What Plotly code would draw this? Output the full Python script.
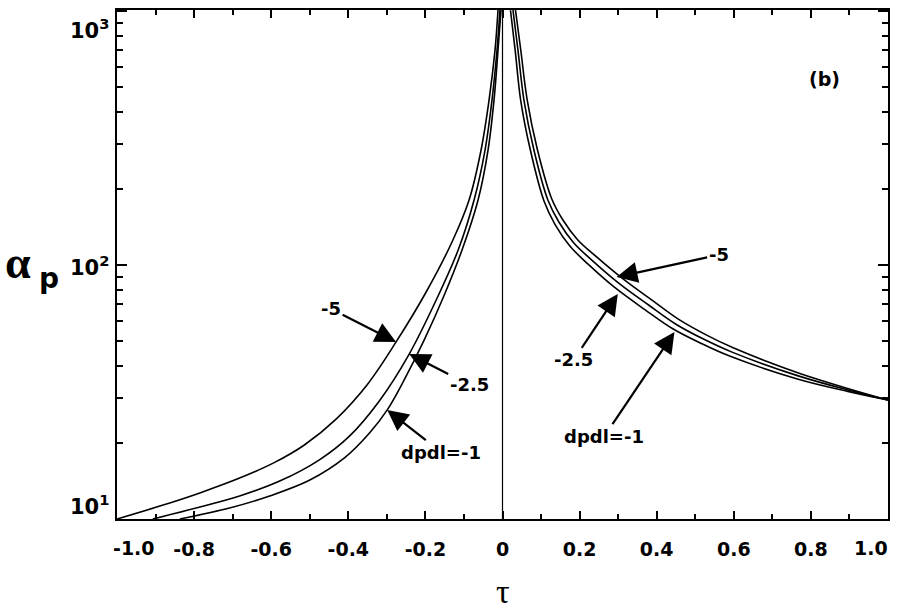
import plotly.graph_objects as go

# ---------------- data ----------------
# tau < 0 branch
tau_left_m5 = [-1.000, -0.889, -0.785, -0.682, -0.591, -0.514, -0.431, -0.351, -0.276,
               -0.198, -0.131, -0.0867, -0.0556, -0.0349, -0.0194, -0.0116]
alpha_left_m5 = [10.0, 11.24, 12.67, 14.49, 16.71, 19.56, 24.8, 33.8, 49.8,
                 78.3, 123.2, 180.3, 283.6, 446, 702, 1009]

tau_left_m25 = [-0.907, -0.785, -0.682, -0.578, -0.475, -0.397, -0.320, -0.242, -0.172,
                -0.115, -0.0737, -0.0453, -0.0272, -0.0142, -0.0065]
alpha_left_m25 = [10.0, 11.15, 12.32, 14.1, 17.1, 21.2, 29.1, 44.6, 72.8,
                  114.6, 180.3, 283.6, 446, 702, 1009]

tau_left_m1 = [-0.837, -0.708, -0.604, -0.501, -0.410, -0.345, -0.299, -0.255, -0.203,
               -0.151, -0.105, -0.0634, -0.0375, -0.0220, -0.0116, -0.0039]
alpha_left_m1 = [10.0, 11.05, 12.32, 14.2, 17.4, 21.8, 26.9, 35.3, 50.7,
                 76.2, 114.6, 180.3, 283.6, 446, 702, 1009]

# tau > 0 branch
tau_right_m5 = [0.0336, 0.0473, 0.0639, 0.0903, 0.1276, 0.1563, 0.1948, 0.2411,
                0.3110, 0.3878, 0.4561, 0.5270, 0.5984, 0.7695, 0.8975, 1.000]
alpha_right_m5 = [1012, 704, 448, 285.7, 182.4, 150.8, 125.8, 108.6,
                  88.6, 72.7, 61.2, 53.2, 47.2, 37.5, 32.6, 29.4]

tau_right_m25 = [0.0272, 0.0401, 0.0556, 0.0815, 0.1177, 0.1462, 0.1850, 0.2316,
                 0.3014, 0.3790, 0.4489, 0.5213, 0.5938, 0.7671, 0.8965, 1.000]
alpha_right_m25 = [1009, 702, 446, 283.6, 180.3, 147.7, 122.1, 104.6,
                   84.9, 69.6, 58.6, 51.1, 45.5, 36.6, 32.2, 29.4]

tau_right_m1 = [0.0207, 0.0329, 0.0473, 0.0727, 0.1079, 0.1361, 0.1752, 0.2220,
                0.2918, 0.3702, 0.4417, 0.5157, 0.5891, 0.7648, 0.8955, 1.000]
alpha_right_m1 = [1007, 700, 444, 281.6, 178.2, 144.6, 118.5, 100.8,
                  81.4, 66.6, 56.1, 49.1, 43.8, 35.6, 31.8, 29.4]

x_tick_vals = [-0.8, -0.6, -0.4, -0.2, 0, 0.2, 0.4, 0.6, 0.8]
x_tick_text = ["-0.8", "-0.6", "-0.4", "-0.2", "0", "0.2", "0.4", "0.6", "0.8"]
x_end_vals = [-1.0, 1.0]
x_end_text = ["-1.0", "1.0"]
x_minor_vals = [-0.9, -0.7, -0.5, -0.3, -0.1, 0.1, 0.3, 0.5, 0.7, 0.9]
y_tick_vals = [10, 100, 1000]
y_tick_text = ["10<sup>1</sup>", "10<sup>2</sup>", "10<sup>3</sup>"]
y_minor_vals = [20, 30, 40, 50, 60, 70, 80, 90, 200, 300, 400, 500, 600, 700, 800, 900]

# ---------------- figure ----------------
fig = go.Figure()
line_style = dict(color="black", width=1.6, shape="spline", smoothing=1.0)
for xs, ys in [(tau_left_m5, alpha_left_m5), (tau_left_m25, alpha_left_m25),
               (tau_left_m1, alpha_left_m1), (tau_right_m5, alpha_right_m5),
               (tau_right_m25, alpha_right_m25), (tau_right_m1, alpha_right_m1)]:
    fig.add_trace(go.Scatter(x=xs, y=ys, mode="lines", line=line_style,
                             showlegend=False, hoverinfo="skip", cliponaxis=True))

fig.add_shape(type="line", x0=0, x1=0, y0=0, y1=1, xref="x", yref="paper",
              line=dict(color="black", width=1.2))

bold = dict(family="DejaVu Sans", size=18, color="black", weight="bold")
arrow_kw = dict(showarrow=True, arrowhead=2, arrowsize=1.9, arrowwidth=2.2,
                arrowcolor="black", standoff=0, font=bold, axref="pixel", ayref="pixel")

# left branch labels (annotation y is log10 on the log axis)
fig.add_annotation(x=-0.276, y=1.697, text="-5", ax=-65, ay=-33, **arrow_kw)
fig.add_annotation(x=-0.242, y=1.650, text="-2.5", ax=60, ay=31, **arrow_kw)
fig.add_annotation(x=-0.299, y=1.429, text="dpdl=-1", ax=54, ay=42, **arrow_kw)
# right branch labels
fig.add_annotation(x=0.296, y=1.953, text="-5", ax=102, ay=-22, **arrow_kw)
fig.add_annotation(x=0.299, y=1.886, text="-2.5", ax=-44, ay=66, **arrow_kw)
fig.add_annotation(x=0.446, y=1.736, text="dpdl=-1", ax=-70, ay=104, **arrow_kw)

fig.add_annotation(x=0.918, y=0.864, xref="paper", yref="paper", text="(b)",
                   showarrow=False, font=dict(bold, size=19),
                   xanchor="center", yanchor="middle")

tick_font = dict(family="DejaVu Sans", size=19, color="black", weight="bold")
ytick_font = dict(family="DejaVu Sans", size=21, color="black", weight="bold")

# end tick labels of the x axis, shifted inward as in the original
for xv, txt, sh in zip(x_end_vals, x_end_text, [17, -17]):
    fig.add_annotation(x=xv, y=0, yref="paper", text=txt, showarrow=False,
                       font=tick_font, xshift=sh, yshift=-29, yanchor="middle")

# y tick labels (placed as in the original)
for yv, txt, sh in zip(y_tick_vals, y_tick_text, [14, -1, -18]):
    fig.add_annotation(x=0, xref="paper", y=len(str(yv)) - 1, text=txt, showarrow=False,
                       font=ytick_font, xanchor="right", yanchor="middle",
                       xshift=-6, yshift=sh)

# axis titles
fig.add_annotation(x=0, y=0.5, xref="paper", yref="paper", text="α",
                   showarrow=False,
                   font=dict(family="Liberation Serif", size=46, color="black", weight="bold"),
                   xshift=-99, yshift=2, xanchor="center")
fig.add_annotation(x=0, y=0.5, xref="paper", yref="paper", text="p",
                   showarrow=False,
                   font=dict(family="DejaVu Sans", size=28, color="black", weight="bold"),
                   xshift=-68, yshift=-14, xanchor="center")
fig.add_annotation(x=0.5, y=0, xref="paper", yref="paper", text="τ",
                   showarrow=False, font=dict(family="Liberation Serif", size=34, color="black"),
                   yshift=-72, yanchor="middle")

axis_common = dict(showgrid=False, zeroline=False, showline=True, linecolor="black",
                   linewidth=1.8, mirror="ticks", ticks="inside", tickcolor="black",
                   tickwidth=1.5)

fig.update_xaxes(range=[-1.0, 1.0], tickmode="array", tickvals=x_tick_vals,
                 ticktext=x_tick_text, ticklen=8, ticklabelstandoff=12, tickfont=tick_font,
                 minor=dict(tickmode="array", tickvals=x_minor_vals, ticks="inside",
                            ticklen=5, tickcolor="black", tickwidth=1.5),
                 **axis_common)
fig.update_yaxes(type="log", range=[1.0, 3.004], tickmode="array", tickvals=y_tick_vals,
                 showticklabels=False, ticklen=10,
                 minor=dict(tickmode="array", tickvals=y_minor_vals, ticks="inside",
                            ticklen=6, tickcolor="black", tickwidth=1.5),
                 **axis_common)

fig.update_layout(width=897, height=614, plot_bgcolor="white", paper_bgcolor="white",
                  margin=dict(l=117, r=7, t=10, b=95), showlegend=False)

fig.write_html("out.html")
